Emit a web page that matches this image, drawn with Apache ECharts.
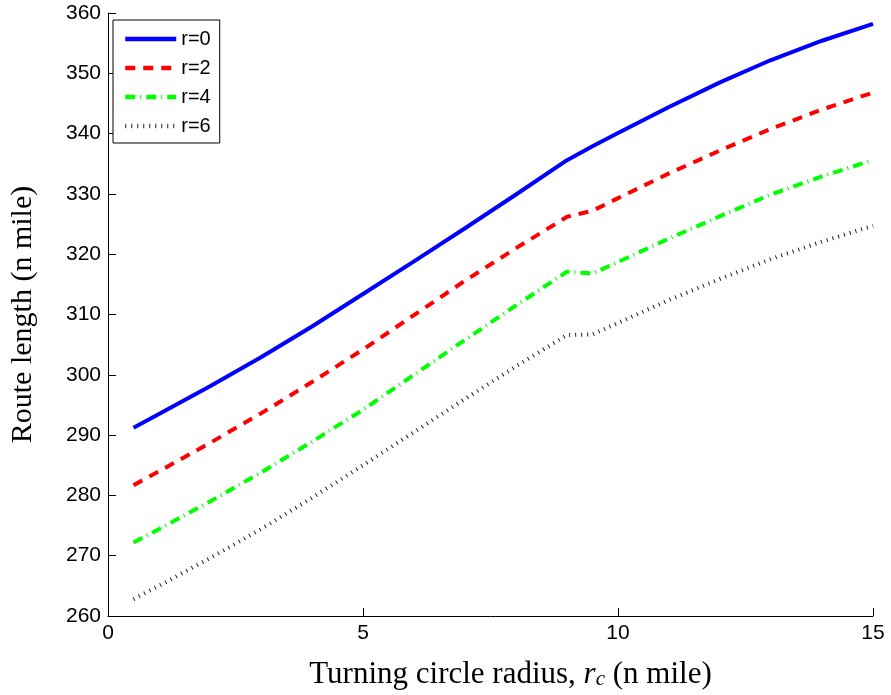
<!DOCTYPE html>
<html>
<head>
<meta charset="utf-8">
<script src="https://cdn.jsdelivr.net/npm/echarts@6/dist/echarts.min.js"></script>
<style>
html,body{margin:0;padding:0;background:#fff;}
#chart{width:891px;height:695px;}
</style>
</head>
<body>
<div id="chart"></div>
<script>
const xValues = [0.5, 1, 2, 3, 4, 5, 6, 7, 8, 9, 9.5, 10, 11, 12, 13, 14, 15];
const r0 = [291.2, 293.5, 298.1, 302.9, 308.0, 313.4, 318.8, 324.3, 329.9, 335.6, 337.9, 340.1, 344.4, 348.5, 352.2, 355.4, 358.2];
const r2 = [281.7, 284.0, 288.7, 293.6, 298.8, 304.2, 309.9, 315.6, 321.0, 326.2, 327.2, 329.3, 333.4, 337.2, 340.8, 344.0, 346.8];
const r4 = [272.2, 274.4, 279.0, 283.8, 288.9, 294.2, 300.0, 305.8, 311.5, 317.1, 316.8, 318.7, 322.6, 326.3, 329.9, 332.9, 335.6];
const r6 = [262.8, 265.0, 269.6, 274.4, 279.6, 285.0, 290.5, 296.0, 301.4, 306.6, 306.7, 308.6, 312.4, 315.9, 319.2, 322.1, 324.7];
const seriesNames = ['r=0', 'r=2', 'r=4', 'r=6'];
const xTicks = {min: 0, max: 15, interval: 5};
const yTicks = {min: 260, max: 360, interval: 10};

function pairs(ys){ return xValues.map((x,i)=>[x, ys[i]]); }

const chart = echarts.init(document.getElementById('chart'), null, {renderer:'canvas'});
const sansFont = '"Liberation Sans", Arial, sans-serif';
const serifFont = '"Liberation Serif", "Times New Roman", serif';

const styles = [
  {color:'#0000ff', width:4, type:'solid'},
  {color:'#ff0000', width:4, type:[10,8]},
  {color:'#00ff00', width:4, type:[10,5,1,5]},
  {color:'#222222', width:4, type:[1,5]}
];
const datasets = [r0, r2, r4, r6];

chart.setOption({
  animation:false,
  backgroundColor:'#fff',
  grid:{left:107, right:18, top:13, bottom:78, containLabel:false},
  legend:{
    orient:'vertical', left:113, top:20,
    borderColor:'#000', borderWidth:1, backgroundColor:'#fff', borderRadius:0,
    padding:[9,9,7,10], itemWidth:51, itemHeight:14, itemGap:9,
    itemStyle:{opacity:0},
    textStyle:{fontFamily:sansFont, fontSize:20, color:'#000'},
    data: seriesNames.map((n,i)=>({
      name:n,
      itemStyle:{opacity:0},
      lineStyle:{color:styles[i].color, width:styles[i].width + 0.5, type:styles[i].type}
    }))
  },
  xAxis:{
    type:'value', min:xTicks.min, max:xTicks.max, interval:xTicks.interval,
    name:'{a|Turning circle radius, }{i|r}{s|c}{a| (n mile)}',
    nameLocation:'middle', nameGap:39,
    nameTextStyle:{
      padding:[0,0,0,40],
      rich:{
        a:{fontFamily:serifFont, fontSize:31, color:'#000', verticalAlign:'bottom', lineHeight:35},
        i:{fontFamily:serifFont, fontSize:31, fontStyle:'italic', color:'#000', verticalAlign:'bottom', lineHeight:35},
        s:{fontFamily:serifFont, fontSize:21, fontStyle:'italic', color:'#000', verticalAlign:'bottom', lineHeight:27}
      }
    },
    axisLine:{show:true, onZero:false, lineStyle:{color:'#000', width:1}},
    axisTick:{show:true, inside:true, length:8, lineStyle:{color:'#000'}},
    axisLabel:{fontFamily:sansFont, fontSize:21, color:'#000', margin:7},
    splitLine:{show:false}
  },
  yAxis:{
    type:'value', min:yTicks.min, max:yTicks.max, interval:yTicks.interval,
    name:'Route length (n mile)', nameLocation:'middle', nameGap:70, nameRotate:90,
    nameTextStyle:{fontFamily:serifFont, fontSize:30, color:'#000'},
    axisLine:{show:true, onZero:false, lineStyle:{color:'#000', width:1}},
    axisTick:{show:true, inside:true, length:8, lineStyle:{color:'#000'}},
    axisLabel:{fontFamily:sansFont, fontSize:21, color:'#000', margin:7},
    splitLine:{show:false}
  },
  series: seriesNames.map((n,i)=>({
    name:n, type:'line', data:pairs(datasets[i]), showSymbol:false, symbol:'none',
    lineStyle:{color:styles[i].color, width:styles[i].width, type:styles[i].type},
    itemStyle:{color:styles[i].color},
    z: 10 - i
  }))
});
</script>
</body>
</html>
